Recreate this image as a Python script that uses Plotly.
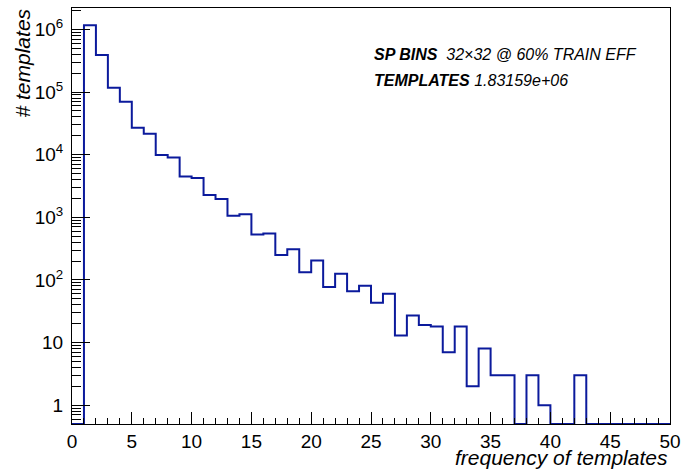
import plotly.graph_objects as go

# ---- data ----
bin_edges = list(range(0, 51))
counts = [0, 1.17e6, 3.9e5, 1.17e5, 7.0e4, 2.7e4, 2.16e4, 9.9e3, 9.0e3, 4.46e3,
          4.25e3, 2.27e3, 1.96e3, 1.06e3, 1.12e3, 530, 553, 251, 310, 133,
          204, 77, 125, 66, 81, 43, 60, 13, 27, 19,
          18, 7, 18, 2, 8, 3, 3, 0, 3, 1,
          0, 0, 3, 0, 0, 0, 0, 0, 0, 0]
y_tickvals = [1, 10, 100, 1e3, 1e4, 1e5, 1e6]
y_ticktext = ["1", "10", "10<sup>2</sup>", "10<sup>3</sup>", "10<sup>4</sup>",
              "10<sup>5</sup>", "10<sup>6</sup>"]
x_tickvals = [0, 5, 10, 15, 20, 25, 30, 35, 40, 45, 50]
y_min, y_max = 0.5, 2.2e6
n_templates = "1.83159e+06"

# clamp empty bins to the bottom of the frame (as ROOT draws them)
xs = bin_edges[:-1] + [bin_edges[-1]]
ys = [max(c, y_min) for c in counts] + [max(counts[-1], y_min)]

FONT = "Liberation Sans, Arial, Helvetica, sans-serif"

fig = go.Figure()
fig.add_trace(go.Scatter(
    x=xs, y=ys, mode="lines", line=dict(shape="hv", color="#0b1a9c", width=2),
    showlegend=False, hoverinfo="skip", cliponaxis=True))

fig.update_layout(
    width=681, height=472,
    margin=dict(l=72, r=11, t=8, b=48),
    paper_bgcolor="white", plot_bgcolor="white",
    font=dict(family=FONT, size=18, color="black"),
    xaxis=dict(range=[0, 50], tickvals=x_tickvals, ticks="inside", ticklen=12,
               tickwidth=1, tickcolor="black", showgrid=False, zeroline=False,
               showline=True, linecolor="black", linewidth=1, mirror=True,
               minor=dict(ticks="inside", ticklen=6, dtick=1, tickcolor="black",
                          tickwidth=1, showgrid=False),
               tickfont=dict(size=19), ticklabelstandoff=0, automargin=False),
    yaxis=dict(type="log", range=[-0.301, 6.342], tickvals=y_tickvals,
               ticktext=y_ticktext, ticks="inside", ticklen=18, tickwidth=1,
               tickcolor="black", showgrid=False, zeroline=False,
               showline=True, linecolor="black", linewidth=1, mirror=True,
               minor=dict(ticks="inside", ticklen=9, dtick="D1", tickcolor="black",
                          tickwidth=1, showgrid=False),
               tickfont=dict(size=19), ticklabelstandoff=4, automargin=False),
)

fig.add_annotation(text="<i>frequency of templates</i>", xref="paper", yref="paper",
                   x=1, y=0, xanchor="right", yanchor="top", yshift=-20,
                   showarrow=False, font=dict(size=21, family=FONT))
fig.add_annotation(text="<i># templates</i>", xref="paper", yref="paper",
                   x=0, y=1, xanchor="center", yanchor="top", xshift=-50, yshift=1,
                   textangle=-90, showarrow=False, font=dict(size=21, family=FONT))
fig.add_annotation(text="<b><i>SP BINS</i></b>\u00a0 <i>32\u00d732 @ 60% TRAIN EFF</i>",
                   xref="paper", yref="paper", x=(372 - 72) / 598, y=1 - (54 - 8) / 416,
                   xanchor="left", yanchor="middle", showarrow=False,
                   font=dict(size=16, family=FONT))
fig.add_annotation(text="<b><i>TEMPLATES</i></b> <i>" + n_templates + "</i>",
                   xref="paper", yref="paper", x=(372 - 72) / 598, y=1 - (81 - 8) / 416,
                   xanchor="left", yanchor="middle", showarrow=False,
                   font=dict(size=16, family=FONT))

fig.write_html("out.html")
